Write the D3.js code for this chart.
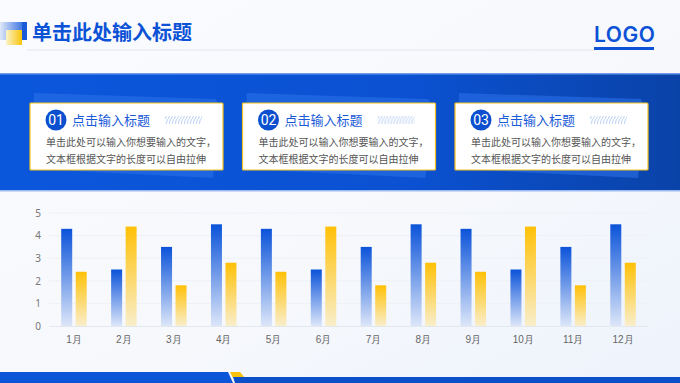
<!DOCTYPE html>
<html lang="zh">
<head>
<meta charset="UTF-8">
<script src="https://cdn.jsdelivr.net/npm/d3@7/dist/d3.min.js"></script>
<style>
  html, body { margin: 0; padding: 0; background: #f5f8fd; }
  svg { display: block; font-family: "Noto Sans CJK SC", "Noto Sans", sans-serif; }
</style>
</head>
<body>
<script>
// 数据
var months = ["1月","2月","3月","4月","5月","6月","7月","8月","9月","10月","11月","12月"];
var seriesA = [4.3, 2.5, 3.5, 4.5, 4.3, 2.5, 3.5, 4.5, 4.3, 2.5, 3.5, 4.5];
var seriesB = [2.4, 4.4, 1.8, 2.8, 2.4, 4.4, 1.8, 2.8, 2.4, 4.4, 1.8, 2.8];
var yTicks = [0, 1, 2, 3, 4, 5];
var cardNums = ["01", "02", "03"];
var cardTitles = ["点击输入标题", "点击输入标题", "点击输入标题"];
var cardLine1 = "单击此处可以输入你想要输入的文字，";
var cardLine2 = "文本框根据文字的长度可以自由拉伸";

var width = 680, height = 383;
var svg = d3.select("body").append("svg")
    .attr("width", width)
    .attr("height", height);

var defs = svg.append("defs");

// 背景
var bg = defs.append("linearGradient").attr("id", "bg")
    .attr("x1", 0).attr("y1", 0).attr("x2", 1).attr("y2", 1);
bg.append("stop").attr("offset", 0).attr("stop-color", "#fafbfe");
bg.append("stop").attr("offset", 0.6).attr("stop-color", "#f6f8fc");
bg.append("stop").attr("offset", 1).attr("stop-color", "#edf3fc");
svg.append("rect").attr("width", width).attr("height", height).attr("fill", "url(#bg)");

// 标题区
var deco = defs.append("linearGradient").attr("id", "deco")
    .attr("x1", 0).attr("y1", 0).attr("x2", 1).attr("y2", 0);
deco.append("stop").attr("offset", 0).attr("stop-color", "#dfe8f8");
deco.append("stop").attr("offset", 1).attr("stop-color", "#1f5fdc");
var decoY = defs.append("linearGradient").attr("id", "decoY")
    .attr("x1", 0).attr("y1", 0).attr("x2", 1).attr("y2", 0);
decoY.append("stop").attr("offset", 0).attr("stop-color", "#fbf2c8");
decoY.append("stop").attr("offset", 1).attr("stop-color", "#f8c40a");
svg.append("rect").attr("x", 0).attr("y", 22).attr("width", 27).attr("height", 18).attr("fill", "url(#deco)");
svg.append("rect").attr("x", 6).attr("y", 30).attr("width", 16).attr("height", 15).attr("fill", "url(#decoY)");
svg.append("rect").attr("x", 22).attr("y", 22).attr("width", 5).attr("height", 18).attr("fill", "#1a5ad8");

svg.append("text").attr("x", 32).attr("y", 40)
    .attr("font-size", 20).attr("font-weight", "bold").attr("fill", "#0c52d6")
    .text("单击此处输入标题");
svg.append("line").attr("x1", 27).attr("x2", 594).attr("y1", 50).attr("y2", 50)
    .attr("stroke", "#e2e7ef").attr("stroke-width", 1);

svg.append("text").attr("x", 594).attr("y", 42)
    .attr("font-family", "Inter, Roboto, sans-serif")
    .attr("font-size", 21).attr("font-weight", 600).attr("fill", "#0c52d6")
    .attr("letter-spacing", 0.5)
    .text("LOGO");
svg.append("rect").attr("x", 594).attr("y", 47).attr("width", 60).attr("height", 3).attr("fill", "#0c52d6");

// 蓝色横幅
var band = defs.append("linearGradient").attr("id", "band")
    .attr("x1", 0).attr("y1", 0).attr("x2", 1).attr("y2", 0);
band.append("stop").attr("offset", 0).attr("stop-color", "#0b57dc");
band.append("stop").attr("offset", 0.6).attr("stop-color", "#0b51d2");
band.append("stop").attr("offset", 1).attr("stop-color", "#0a43a8");
svg.append("rect").attr("x", 0).attr("y", 73).attr("width", width).attr("height", 118).attr("fill", "url(#band)");
svg.append("rect").attr("x", 0).attr("y", 73).attr("width", width).attr("height", 1.5).attr("fill", "#6f9bea");
svg.append("rect").attr("x", 0).attr("y", 190).attr("width", width).attr("height", 1.5).attr("fill", "#9dbaf0");

// 斜线纹理
var hatch = defs.append("pattern").attr("id", "hatch")
    .attr("patternUnits", "userSpaceOnUse").attr("width", 3).attr("height", 8);
hatch.append("line").attr("x1", 0.5).attr("y1", 8).attr("x2", 2.5).attr("y2", 0)
    .attr("stroke", "#9fbbef").attr("stroke-width", 0.7);

// 卡片
var cardX = d3.scalePoint().domain(cardNums).range([30, 455]);
var cardW = 193, cardTop = 103, cardH = 67;

var cards = svg.selectAll("g.card").data(cardNums).enter().append("g")
    .attr("class", "card")
    .attr("transform", function (d) { return "translate(" + cardX(d) + "," + cardTop + ")"; });

cards.append("path")
    .attr("d", "M4,-10 L186,-4 L190,6 L183,75 L4,66 Z")
    .attr("fill", "#2a6fe6").attr("opacity", 0.6);
cards.append("rect").attr("width", cardW).attr("height", cardH)
    .attr("fill", "#ffffff").attr("stroke", "#f5c21a").attr("stroke-width", 1.2).attr("rx", 1);
cards.append("circle").attr("cx", 26).attr("cy", 17).attr("r", 10.5).attr("fill", "#0c4fcf");
cards.append("text").attr("x", 26).attr("y", 22).attr("text-anchor", "middle")
    .attr("font-family", "Roboto, sans-serif")
    .attr("font-size", 14).attr("fill", "#fff")
    .text(function (d) { return d; });
cards.append("text").attr("x", 42).attr("y", 22)
    .attr("font-size", 13).attr("fill", "#1a5ad8")
    .text(function (d, i) { return cardTitles[i]; });
cards.append("rect").attr("x", 135).attr("y", 13).attr("width", 37).attr("height", 8)
    .attr("fill", "url(#hatch)");
cards.append("text").attr("x", 16).attr("y", 43)
    .attr("font-size", 10).attr("fill", "#555")
    .text(cardLine1);
cards.append("text").attr("x", 16).attr("y", 60)
    .attr("font-size", 10).attr("fill", "#555")
    .text(cardLine2);

// 柱状图
var margin = { left: 49, right: 32, top: 213, bottom: 57 };
var x = d3.scaleBand().domain(months).range([margin.left, width - margin.right]);
var y = d3.scaleLinear().domain([0, 5]).range([height - margin.bottom, margin.top]);

var gA = defs.append("linearGradient").attr("id", "gA")
    .attr("x1", 0).attr("y1", 0).attr("x2", 0).attr("y2", 1);
gA.append("stop").attr("offset", 0).attr("stop-color", "#0b53d9");
gA.append("stop").attr("offset", 1).attr("stop-color", "#dce6f9");
var gB = defs.append("linearGradient").attr("id", "gB")
    .attr("x1", 0).attr("y1", 0).attr("x2", 0).attr("y2", 1);
gB.append("stop").attr("offset", 0).attr("stop-color", "#ffc107");
gB.append("stop").attr("offset", 1).attr("stop-color", "#f9eecb");

var grid = svg.append("g");
grid.selectAll("line").data(yTicks.slice(1)).enter().append("line")
    .attr("x1", margin.left).attr("x2", width - margin.right)
    .attr("y1", function (d) { return y(d); }).attr("y2", function (d) { return y(d); })
    .attr("stroke", "#eef1f6").attr("stroke-width", 1);

var yAxis = svg.append("g").attr("transform", "translate(" + margin.left + ",0)")
    .call(d3.axisLeft(y).tickValues(yTicks).tickFormat(d3.format("d")).tickSize(0).tickPadding(8));
yAxis.select(".domain").remove();
yAxis.selectAll("text").attr("fill", "#777").attr("font-size", 10)
    .attr("font-family", "Noto Sans, sans-serif");

var xAxis = svg.append("g").attr("transform", "translate(0," + y(0) + ")")
    .call(d3.axisBottom(x).tickSize(0).tickPadding(10));
xAxis.select(".domain").attr("stroke", "#e3e7ee");
xAxis.selectAll("text").attr("fill", "#666").attr("font-size", 10);

var barW = 11, gap = 3.5;
svg.append("g").selectAll("rect").data(seriesA).enter().append("rect")
    .attr("x", function (d, i) { return x(months[i]) + x.bandwidth() / 2 - gap / 2 - barW; })
    .attr("y", function (d) { return y(d); })
    .attr("width", barW)
    .attr("height", function (d) { return y(0) - y(d); })
    .attr("fill", "url(#gA)");
svg.append("g").selectAll("rect").data(seriesB).enter().append("rect")
    .attr("x", function (d, i) { return x(months[i]) + x.bandwidth() / 2 + gap / 2; })
    .attr("y", function (d) { return y(d); })
    .attr("width", barW)
    .attr("height", function (d) { return y(0) - y(d); })
    .attr("fill", "url(#gB)");

// 底部装饰
svg.append("path").attr("d", "M0,372 L228,372 L233,383 L0,383 Z").attr("fill", "#0b55d9");
svg.append("path").attr("d", "M230,372 L240,372 L245,378 L233,378 Z").attr("fill", "#f8c20c");
svg.append("path").attr("d", "M233,377 L680,377 L680,383 L235,383 Z").attr("fill", "#0b4fc9");
</script>
</body>
</html>
